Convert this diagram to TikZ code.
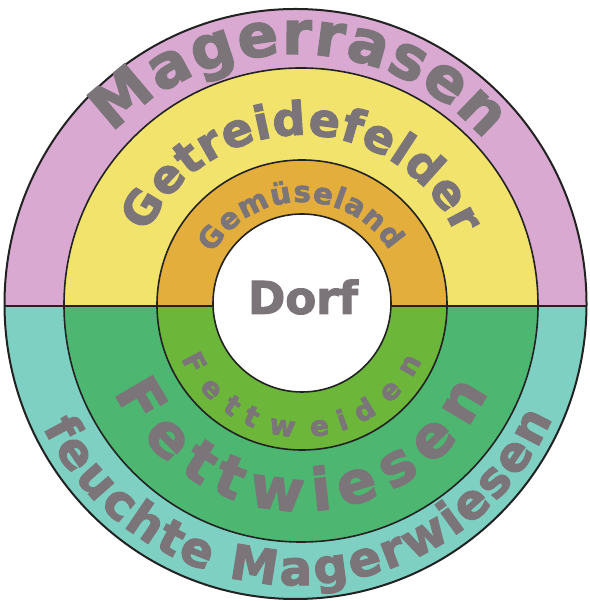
\documentclass[tikz,border=0pt]{standalone}
\usepackage{fontspec}
\newfontfamily\hv{DejaVu Sans Bold}[FakeBold=2.5]
\usetikzlibrary{decorations.text,calc}
\definecolor{pinkz}{HTML}{D9A9D2}
\definecolor{yellowz}{HTML}{F2E36C}
\definecolor{orangez}{HTML}{E4AE3C}
\definecolor{tealz}{HTML}{7ED0C2}
\definecolor{greenz}{HTML}{4DB670}
\definecolor{limez}{HTML}{6CB63A}
\definecolor{txtg}{HTML}{7B7479}
\definecolor{linez}{HTML}{222222}
\begin{document}
\begin{tikzpicture}[x=1pt,y=1pt,
  ringline/.style={draw=linez, line width=1.6pt},
  arctext/.style n args={2}{decorate, decoration={text effects along path, text={#1},
     text effects/.cd, text along path, fit text to path,
     characters={font=\hv\fontsize{#2}{#2}\selectfont, text=txtg}}}]
\fill[white] (0,0) rectangle (589,601);
\useasboundingbox (0,0) rectangle (589,601);
\coordinate (C0) at (295.5,297);
\coordinate (C1) at (301,296);
\coordinate (C2) at (302,296);
\coordinate (C3) at (302,298);
% upper halves
\begin{scope}
  \clip (0,295) rectangle (589,601);
  \fill[pinkz] (C0) ellipse [x radius=291pt, y radius=295pt];
  \fill[yellowz] (C1) circle [radius=237pt];
  \fill[orangez] (C2) circle [radius=145pt];
\end{scope}
% lower halves
\begin{scope}
  \clip (0,0) rectangle (589,295);
  \fill[tealz] (C0) ellipse [x radius=291pt, y radius=295pt];
  \fill[greenz] (C1) circle [radius=237pt];
  \fill[limez] (C2) circle [radius=145pt];
\end{scope}
\fill[white] (C3) circle [radius=89pt];
% divider
\coordinate (dl0) at (0,295);
\coordinate (dl1) at (213,295);
\coordinate (dr1) at (391,295);
\coordinate (dr0) at (589,295);
\begin{scope}
  \clip (C0) ellipse [x radius=291pt, y radius=295pt];
  \draw[ringline] (dl0) -- (dl1);
  \draw[ringline] (dr1) -- (dr0);
\end{scope}
% outlines
\draw[ringline, line width=2pt] (C0) ellipse [x radius=291pt, y radius=295pt];
\draw[ringline] (C1) circle [radius=237pt];
\draw[ringline] (C2) circle [radius=145pt];
\draw[ringline] (C3) circle [radius=89pt];
% texts
\path[arctext={Magerrasen}{60}] ($(C0)+(137:250pt)$) arc[start angle=137, end angle=41, radius=250pt];
\path[arctext={Getreidefelder}{46}] ($(C1)+(155:170pt)$) arc[start angle=155, end angle=24, radius=170pt];
\path[arctext={Gemüseland}{29}] ($(C2)+(150:103pt)$) arc[start angle=150, end angle=32, radius=103pt];
\path[arctext={Fettweiden}{28}] ($(C2)+(204:132pt)$) arc[start angle=204, end angle=335, radius=132pt];
\path[arctext={Fettwiesen}{58}] ($(C1)+(205:206pt)$) arc[start angle=205, end angle=335, radius=206pt];
\path[arctext={feuchte Magerwiesen}{48}] ($(C0)+(206:281pt)$) arc[start angle=206, end angle=336, radius=281pt];
\node[font=\hv\fontsize{45}{45}\selectfont, text=txtg] (dorf) at (303,304) {Dorf};
\end{tikzpicture}
\end{document}
